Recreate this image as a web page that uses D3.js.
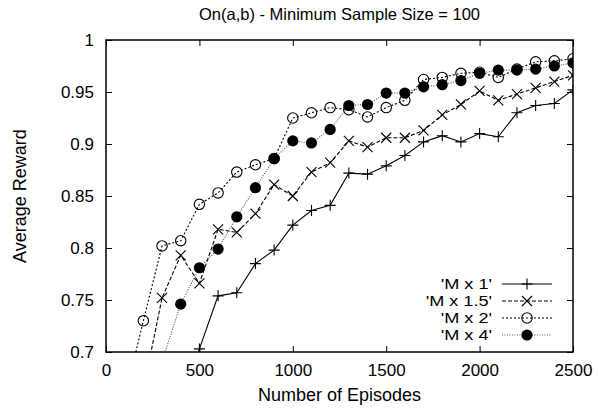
<!DOCTYPE html>
<html>
<head>
<meta charset="utf-8">
<script src="https://cdn.jsdelivr.net/npm/d3@7"></script>
<style>
  body { margin: 0; background: #fff; }
  text { font-family: "Liberation Sans", Arial, sans-serif; fill: #000; }
</style>
</head>
<body>
<div id="chart"></div>
<script>
// episodes (x) for each series
var episodes = [100, 200, 300, 400, 500, 600, 700, 800, 900, 1000, 1100, 1200, 1300,
                1400, 1500, 1600, 1700, 1800, 1900, 2000, 2100, 2200, 2300, 2400, 2500];

// values below 0.7 are off the plot (clipped), estimated from the line slopes
var mx1   = [0.55, 0.58, 0.62, 0.65, 0.703, 0.754, 0.757, 0.785, 0.798, 0.822, 0.836, 0.841, 0.872,
             0.871, 0.879, 0.889, 0.902, 0.908, 0.902, 0.910, 0.907, 0.930, 0.937, 0.939, 0.952];
var mx15  = [0.62, 0.664, 0.752, 0.793, 0.766, 0.818, 0.815, 0.833, 0.861, 0.850, 0.873, 0.882, 0.903,
             0.897, 0.906, 0.906, 0.913, 0.928, 0.938, 0.951, 0.942, 0.948, 0.954, 0.960, 0.966];
var mx2   = [0.655, 0.730, 0.802, 0.807, 0.842, 0.853, 0.873, 0.880, 0.886, 0.925, 0.930, 0.935, 0.933,
             0.926, 0.935, 0.942, 0.962, 0.964, 0.968, 0.969, 0.964, 0.972, 0.979, 0.980, 0.982];
var mx4   = [0.60, 0.64, 0.691, 0.746, 0.781, 0.799, 0.830, 0.858, 0.886, 0.903, 0.901, 0.914, 0.937,
             0.938, 0.949, 0.949, 0.955, 0.957, 0.961, 0.968, 0.971, 0.971, 0.972, 0.975, 0.978];

var seriesNames = ["'M x 1'", "'M x 1.5'", "'M x 2'", "'M x 4'"];
var xTicks = [0, 500, 1000, 1500, 2000, 2500];
var yTicks = [0.7, 0.75, 0.8, 0.85, 0.9, 0.95, 1];

var W = 598, H = 410;
var margin = {top: 40, right: 25, bottom: 58, left: 106};
var width = W - margin.left - margin.right;   // 467
var height = H - margin.top - margin.bottom;  // 312

var svg = d3.select("#chart").append("svg")
    .attr("width", W)
    .attr("height", H);

var g = svg.append("g")
    .attr("transform", "translate(" + margin.left + "," + margin.top + ")");

var x = d3.scaleLinear().domain([0, 2500]).range([0, width]);
var y = d3.scaleLinear().domain([0.7, 1]).range([height, 0]);

svg.append("defs").append("clipPath")
    .attr("id", "plotclip")
    .append("rect")
    .attr("width", width)
    .attr("height", height);

// ticks pointing inward, mirrored
var tl = 6;
var yfmt = function(d){ return String(+d.toFixed(2)); };

g.append("g")
    .attr("transform", "translate(0," + height + ")")
    .call(d3.axisBottom(x).tickValues(xTicks).tickSizeInner(-tl).tickSizeOuter(0).tickPadding(12).tickFormat(d3.format("d")))
    .call(function(a){ a.select(".domain").remove(); })
    .selectAll("text").style("font-size", "17px");

g.append("g")
    .call(d3.axisTop(x).tickValues(xTicks).tickSizeInner(-tl).tickSizeOuter(0).tickFormat(""))
    .call(function(a){ a.select(".domain").remove(); });

g.append("g")
    .call(d3.axisLeft(y).tickValues(yTicks).tickSizeInner(-tl).tickSizeOuter(0).tickPadding(12).tickFormat(yfmt))
    .call(function(a){ a.select(".domain").remove(); })
    .selectAll("text").style("font-size", "17px");

g.append("g")
    .attr("transform", "translate(" + width + ",0)")
    .call(d3.axisRight(y).tickValues(yTicks).tickSizeInner(-tl).tickSizeOuter(0).tickFormat(""))
    .call(function(a){ a.select(".domain").remove(); });

g.selectAll(".tick line").attr("stroke", "#000");
g.selectAll(".tick text").attr("font-family", null);

// frame
g.append("rect")
    .attr("width", width)
    .attr("height", height)
    .attr("fill", "none")
    .attr("stroke", "#000")
    .attr("stroke-width", 1.5);

// marker paths
function plusPath(s){ return "M" + (-s) + ",0H" + s + "M0," + (-s) + "V" + s; }
function crossPath(s){ return "M" + (-s) + "," + (-s) + "L" + s + "," + s + "M" + (-s) + "," + s + "L" + s + "," + (-s); }

var series = [
    {name: seriesNames[0], values: mx1,  dash: null,  lineColor: "#000", lw: 1.1, marker: "plus"},
    {name: seriesNames[1], values: mx15, dash: "4,2", lineColor: "#000", lw: 1.1, marker: "cross"},
    {name: seriesNames[2], values: mx2,  dash: "2,2", lineColor: "#000", lw: 1.1, marker: "circle"},
    {name: seriesNames[3], values: mx4,  dash: "1,1.5", lineColor: "#555", lw: 1.1, marker: "dot"}
];

function drawMarker(sel, kind){
    if (kind === "plus") {
        sel.append("path").attr("d", plusPath(5.5)).attr("stroke", "#000").attr("stroke-width", 1.1).attr("fill", "none");
    } else if (kind === "cross") {
        sel.append("path").attr("d", crossPath(5)).attr("stroke", "#000").attr("stroke-width", 1.1).attr("fill", "none");
    } else if (kind === "circle") {
        sel.append("circle").attr("r", 5.2).attr("stroke", "#000").attr("stroke-width", 1.1).attr("fill", "none");
    } else {
        sel.append("circle").attr("r", 5.6).attr("fill", "#000");
    }
}

var line = d3.line()
    .x(function(d){ return x(d[0]); })
    .y(function(d){ return y(d[1]); });

var plot = g.append("g").attr("clip-path", "url(#plotclip)");

series.forEach(function(s){
    var pts = episodes.map(function(e, i){ return [e, s.values[i]]; });
    plot.append("path")
        .datum(pts)
        .attr("d", line)
        .attr("fill", "none")
        .attr("stroke", s.lineColor)
        .attr("stroke-width", s.lw)
        .attr("stroke-dasharray", s.dash);

    plot.selectAll(".m-" + s.marker)
        .data(pts.filter(function(p){ return p[1] >= 0.695; }))
        .enter().append("g")
        .attr("class", "m-" + s.marker)
        .attr("transform", function(d){ return "translate(" + x(d[0]) + "," + y(d[1]) + ")"; })
        .each(function(){ drawMarker(d3.select(this), s.marker); });
});

// legend (text a bit wide, like the reference)
var legend = g.append("g").attr("transform", "translate(" + (width - 83) + "," + (height - 68) + ")");
series.forEach(function(s, i){
    var row = legend.append("g").attr("transform", "translate(0," + (i * 17) + ")");
    row.append("text")
        .attr("transform", "translate(2,0) scale(1.25,1)")
        .attr("dy", "0.35em")
        .attr("text-anchor", "end")
        .style("font-size", "14.5px")
        .text(s.name);
    row.append("line")
        .attr("x1", 12).attr("x2", 62)
        .attr("stroke", s.lineColor)
        .attr("stroke-width", s.lw)
        .attr("stroke-dasharray", s.dash);
    var m = row.append("g").attr("transform", "translate(37,0)");
    drawMarker(m, s.marker);
});

// title and axis labels
svg.append("text")
    .attr("x", margin.left + width / 2)
    .attr("y", 20)
    .attr("text-anchor", "middle")
    .style("font-size", "16.5px")
    .text("On(a,b) - Minimum Sample Size = 100");

svg.append("text")
    .attr("x", margin.left + width / 2)
    .attr("y", 401)
    .attr("text-anchor", "middle")
    .style("font-size", "18px")
    .text("Number of Episodes");

svg.append("text")
    .attr("transform", "translate(26," + (margin.top + height / 2) + ") rotate(-90)")
    .attr("text-anchor", "middle")
    .style("font-size", "18px")
    .text("Average Reward");
</script>
</body>
</html>
